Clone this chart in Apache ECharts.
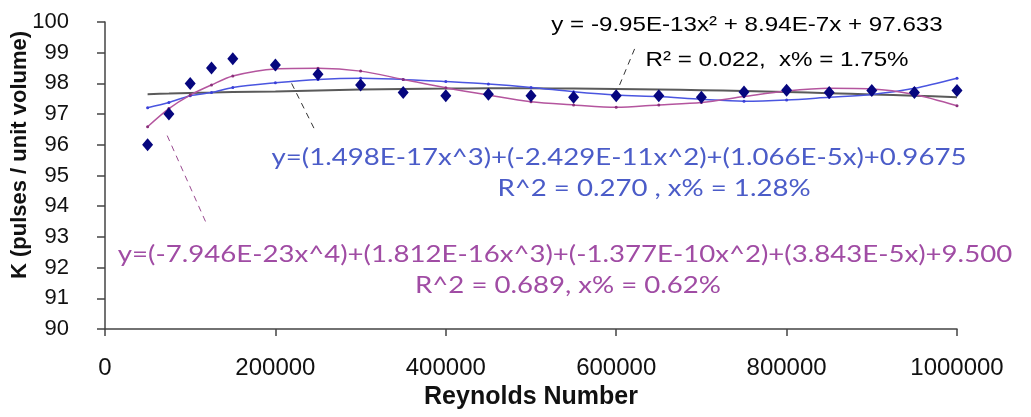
<!DOCTYPE html>
<html>
<head>
<meta charset="utf-8">
<script src="https://cdn.jsdelivr.net/npm/echarts@6/dist/echarts.min.js"></script>
<style>
  html, body { margin: 0; padding: 0; background: #fff; }
  #main { width: 1031px; height: 417px; }
</style>
</head>
<body>
<div id="main"></div>
<script>
// measured K-factor vs Reynolds number
var reynolds = [50000, 75000, 100000, 125000, 150000, 200000, 250000, 300000, 350000, 400000, 450000,
                500000, 550000, 600000, 650000, 700000, 750000, 800000, 850000, 900000, 950000, 1000000];
var kFactor = [96.0, 97.0, 98.0, 98.5, 98.8, 98.6, 98.3, 97.95, 97.7, 97.6, 97.65,
               97.6, 97.55, 97.6, 97.6, 97.55, 97.72, 97.78, 97.7, 97.77, 97.7, 97.77];

// trend lines at each Reynolds number
var fit2 = [97.65, 97.67, 97.69, 97.70, 97.72, 97.74, 97.77, 97.80, 97.82, 97.83, 97.84,
            97.84, 97.83, 97.82, 97.80, 97.78, 97.75, 97.72, 97.68, 97.64, 97.60, 97.55];
var fit3 = [97.21, 97.38, 97.60, 97.70, 97.87, 98.02, 98.13, 98.17, 98.13, 98.06, 97.98,
            97.87, 97.73, 97.62, 97.57, 97.48, 97.42, 97.46, 97.55, 97.64, 97.84, 98.17];
var fit4 = [96.59, 97.18, 97.62, 97.95, 98.24, 98.47, 98.49, 98.40, 98.13, 97.86, 97.62,
            97.40, 97.30, 97.22, 97.30, 97.38, 97.57, 97.75, 97.84, 97.82, 97.64, 97.27];

var xTicks = [0, 200000, 400000, 600000, 800000, 1000000];

function pairs(ys) {
    return reynolds.map(function (x, i) { return [x, ys[i]]; });
}

var dom = document.getElementById('main');
var myChart = echarts.init(dom, null, { renderer: 'canvas' });

var axisFont = 'Liberation Sans, Arial, sans-serif';
var fitFont = 'Lato, Noto Sans, sans-serif';
var stretch = 1.15; // the fit texts are a bit wider than the font

function leader(color, from, to) {
    return {
        silent: true,
        symbol: ['none', 'none'],
        label: { show: false },
        lineStyle: { color: color, type: [6, 5], width: 1 },
        data: [[{ coord: from }, { coord: to }]]
    };
}

function note(x, y, text, color, size, family) {
    return {
        type: 'text', x: x, y: y, scaleX: stretch, silent: true,
        style: { text: text, align: 'center', verticalAlign: 'middle', fill: color, fontSize: size, fontFamily: family }
    };
}

var option = {
    backgroundColor: '#fff',
    animation: false,
    grid: { left: 105, right: 74, top: 22, bottom: 88 },
    xAxis: {
        type: 'value',
        min: 0,
        max: 1000000,
        interval: 200000,
        name: 'Reynolds Number',
        nameLocation: 'middle',
        nameGap: 55,
        nameTextStyle: { fontFamily: axisFont, fontWeight: 'bold', fontSize: 25, color: '#111' },
        axisLine: { lineStyle: { color: '#444', width: 1.5 } },
        axisTick: { length: 7, lineStyle: { color: '#444', width: 1.5 } },
        axisLabel: {
            fontFamily: axisFont, fontSize: 24, color: '#111', margin: 27,
            formatter: function (v) { return xTicks.indexOf(v) >= 0 ? String(v) : ''; }
        },
        splitLine: { show: false }
    },
    yAxis: {
        type: 'value',
        min: 90,
        max: 100,
        interval: 1,
        axisLine: { show: true, lineStyle: { color: '#444', width: 1.5 } },
        axisTick: { show: true, length: 8, lineStyle: { color: '#444', width: 1.5 } },
        axisLabel: { fontFamily: axisFont, fontSize: 22, color: '#111', margin: 36 },
        splitLine: { show: false }
    },
    series: [
        {
            name: 'Quadratic fit',
            type: 'line',
            data: pairs(fit2),
            smooth: 0.3,
            showSymbol: false,
            lineStyle: { color: '#5a5a5a', width: 2 },
            z: 2,
            markLine: leader('#333', [604000, 97.95], [622000, 99.15])
        },
        {
            name: 'Cubic fit',
            type: 'line',
            data: pairs(fit3),
            smooth: 0.3,
            symbol: 'circle',
            symbolSize: 3,
            itemStyle: { color: '#3a3fd8' },
            lineStyle: { color: '#4a55e0', width: 1.5 },
            z: 3,
            markLine: leader('#333', [219000, 98.0], [246000, 96.5])
        },
        {
            name: 'Quartic fit',
            type: 'line',
            data: pairs(fit4),
            smooth: 0.3,
            symbol: 'circle',
            symbolSize: 3,
            itemStyle: { color: '#8a2f7a' },
            lineStyle: { color: '#b4559e', width: 1.5 },
            z: 3,
            markLine: leader('#9a4a90', [73000, 96.3], [118000, 93.5])
        },
        {
            name: 'K factor',
            type: 'scatter',
            data: pairs(kFactor),
            symbol: 'diamond',
            symbolSize: [11, 13],
            itemStyle: { color: '#06067e', opacity: 1 },
            z: 5
        }
    ],
    graphic: [
        {
            type: 'text', x: 20, y: 155, rotation: Math.PI / 2, silent: true,
            style: { text: 'K (pulses / unit volume)', align: 'center', verticalAlign: 'middle', fill: '#111', fontSize: 22, fontWeight: 'bold', fontFamily: axisFont }
        },
        note(747, 25, 'y = -9.95E-13x\u00B2 + 8.94E-7x + 97.633', '#000', 21, axisFont),
        note(777, 60, 'R\u00B2 = 0.022,  x% = 1.75%', '#000', 21, axisFont),
        note(619, 157, 'y=(1.498E-17x^3)+(-2.429E-11x^2)+(1.066E-5x)+0.9675', '#4b5cc8', 24, fitFont),
        note(654, 188, 'R^2 = 0.270 , x% = 1.28%', '#4b5cc8', 24, fitFont),
        note(565, 254, 'y=(-7.946E-23x^4)+(1.812E-16x^3)+(-1.377E-10x^2)+(3.843E-5x)+9.500', '#a04ca4', 24, fitFont),
        note(568, 285, 'R^2 = 0.689, x% = 0.62%', '#a04ca4', 24, fitFont)
    ]
};

if (option && typeof option === 'object') {
    myChart.setOption(option);
}
</script>
</body>
</html>
